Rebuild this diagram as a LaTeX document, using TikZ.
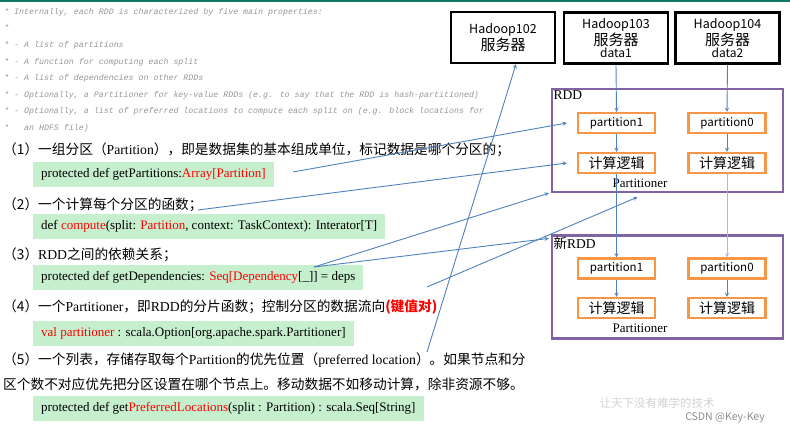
\documentclass[tikz,border=0pt]{standalone}
\usepackage{fontspec}
\setmainfont{Liberation Serif}
\newfontfamily\cjk{Noto Sans CJK SC}
\newfontfamily\latn{Liberation Serif}
\newfontfamily\cmt{Liberation Mono}
\usetikzlibrary{arrows, positioning}
\definecolor{linkblue}{RGB}{79,129,189}
\definecolor{paleblue}{RGB}{160,188,224}
\definecolor{rddpurple}{RGB}{128,100,162}
\definecolor{partorange}{RGB}{247,150,70}
\definecolor{codegreen}{RGB}{198,239,206}
\definecolor{topteal}{RGB}{20,120,100}
\definecolor{cmtgray}{RGB}{150,150,150}

\begin{document}
\begin{tikzpicture}[
			x=1pt, y=-1pt,
			cntext/.style={anchor=west, inner sep=0pt, font=\cjk\fontsize{13.7}{16}\selectfont},
			codebox/.style={
					anchor=west,
					fill=codegreen,
					minimum height=25pt,
					inner xsep=8pt,
					font=\fontsize{13}{15}\selectfont
				},
			server/.style={draw, line width=2.2pt, minimum width=104pt, minimum height=51pt, align=center, inner sep=0pt},
			rddbox/.style={draw=rddpurple, line width=2.2pt, minimum width=231pt, minimum height=103pt},
			partbox/.style={draw=partorange, line width=2.2pt, minimum width=77pt, minimum height=20pt, inner sep=0pt, font=\cjk\fontsize{11.5}{13}\selectfont},
			link/.style={->, >=stealth, draw=linkblue, line width=0.9pt}
		]
		\useasboundingbox (0,0) rectangle (790,434);
		\draw[topteal, line width=1.5pt] (0,0.75) -- (790,0.75);

		% source comment
		\node[anchor=north west, align=left, inner sep=0pt, text=cmtgray,
			font=\cmt\itshape\fontsize{8.3}{16.6}\selectfont] (comments) at (4,8)
		{* Internally, each RDD is characterized by five main properties:\\
		*\\
		* - A list of partitions\\
		* - A function for computing each split\\
		* - A list of dependencies on other RDDs\\
		* - Optionally, a Partitioner for key-value RDDs (e.g. to say that the RDD is hash-partitioned)\\
		* - Optionally, a list of preferred locations to compute each split on (e.g. block locations for\\
		*\ \ \ an HDFS file)};

		% five properties
		\node[cntext] (t1) at (3,150) {（1）一组分区（{\latn Partition}），即是数据集的基本组成单位，标记数据是哪个分区的；};
		\node[codebox] (code1) at (33,174.5) {protected def getPartitions:\textcolor{red}{Array[Partition]}};
		\node[cntext] (t2) at (3,205) {（2）一个计算每个分区的函数；};
		\node[codebox] (code2) at (33,226.5) {def \textcolor{red}{compute}(split: \textcolor{red}{Partition}, context: TaskContext): Interator[T]};
		\node[cntext] (t3) at (3,255) {（3）{\latn RDD}之间的依赖关系；};
		\node[codebox] (code3) at (33,277.5) {protected def getDependencies: \textcolor{red}{Seq[Dependency}[\_]] = deps};
		\node[cntext] (t4) at (3,307) {（4）一个{\latn Partitioner}，即{\latn RDD}的分片函数；控制分区的数据流向\textcolor{red}{\bfseries(键值对)}};
		\node[codebox] (code4) at (33,333.5) {\textcolor{red}{val partitioner} : scala.Option[org.apache.spark.Partitioner]};
		\node[cntext] (t5a) at (3,360) {（5）一个列表，存储存取每个{\latn Partition}的优先位置（{\latn preferred location}）。如果节点和分};
		\node[cntext] (t5b) at (3,384) {区个数不对应优先把分区设置在哪个节点上。移动数据不如移动计算，除非资源不够。};
		\node[codebox] (code5) at (33,408) {protected def get\textcolor{red}{PreferredLocations}(split : Partition) : scala.Seq[String]};

		% servers
		\node[server] (h102) at (503,37.5) {{\cjk\fontsize{12.5}{16}\selectfont Hadoop102}\\{\cjk\fontsize{15}{16}\selectfont 服务器}};
		\node[server] (h103) at (616,38) {{\cjk\fontsize{12.5}{15}\selectfont Hadoop103}\\{\cjk\fontsize{15}{16}\selectfont 服务器}\\{\cjk\fontsize{12}{14}\selectfont data1}};
		\node[server] (h104) at (727.5,38) {{\cjk\fontsize{12.5}{15}\selectfont Hadoop104}\\{\cjk\fontsize{15}{16}\selectfont 服务器}\\{\cjk\fontsize{12}{14}\selectfont data2}};

		% RDD and new RDD
		\node[rddbox] (rdd) at (667.5,140.5) {};
		\node[anchor=north west, inner sep=2.5pt, font=\fontsize{13.5}{15}\selectfont] (rddname) at (rdd.north west) {RDD};
		\node[partbox] (rp1) at (616.5,123) {partition1};
		\node[partbox] (rp0) at (727,123) {partition0};
		\node[partbox, font=\cjk\fontsize{14}{15}\selectfont] (rc1) at (616.5,163) {计算逻辑};
		\node[partbox, font=\cjk\fontsize{14}{15}\selectfont] (rc0) at (727,163) {计算逻辑};
		\node[font=\fontsize{13}{14}\selectfont, inner sep=0pt] (rpart) at (640,183.5) {Partitioner};

		\node[rddbox] (nrdd) at (667.5,287) {};
		\node[anchor=north west, inner sep=2.5pt, font=\fontsize{13.5}{15}\selectfont] (nrddname) at (nrdd.north west) {{\cjk 新}RDD};
		\node[partbox] (np1) at (616.5,268.5) {partition1};
		\node[partbox] (np0) at (727,268.5) {partition0};
		\node[partbox, font=\cjk\fontsize{14}{15}\selectfont] (nc1) at (616.5,308) {计算逻辑};
		\node[partbox, font=\cjk\fontsize{14}{15}\selectfont] (nc0) at (727,308) {计算逻辑};
		\node[font=\fontsize{13}{14}\selectfont, inner sep=0pt] (npart) at (640,328) {Partitioner};

		% data flow
		\draw[link] (h103.south) -- (rp1.north);
		\draw[link] (rp1.south) -- (rc1.north);
		\draw[link] (rc1.south) -- (np1.north);
		\draw[link] (np1.south) -- (nc1.north);
		\draw[link] (h104.south) -- (rp0.north);
		\draw[link] (rp0.south) -- (rc0.north);
		\draw[link, draw=paleblue] (rc0.south) -- (np0.north);
		\draw[link] (np0.south) -- (nc0.north);

		% free ends on the left
		\coordinate (s1) at (293,172);
		\coordinate (s2) at (198,210);
		\coordinate (s3) at (314,267);
		\coordinate (s4) at (427,287);
		\coordinate (s5) at (427,352);

		\draw[link] (s1) -- ([xshift=-10pt]rp1.west);
		\draw[link] (s2) -- ([xshift=-10pt]rc1.west);
		\draw[link] (s3) -- ([xshift=-2pt]rdd.south west);
		\draw[link] (s3) -- ([xshift=-2pt, yshift=-4pt]nrdd.north west);
		\draw[link] (s4) -- ([xshift=-30pt, yshift=-4pt]rdd.south);
		\draw[link] (s5) -- ([xshift=13pt]h102.south);

		% watermark
		\node[font=\cjk\fontsize{11.5}{13}\selectfont, text=black!18, inner sep=0pt] (mark) at (657,403) {让天下没有难学的技术};
		\node[font=\cjk\fontsize{10.5}{12}\selectfont, text=black!45, inner sep=0pt, anchor=east] (csdn) at (765,418) {CSDN @Key-Key};
	\end{tikzpicture}
\end{document}
